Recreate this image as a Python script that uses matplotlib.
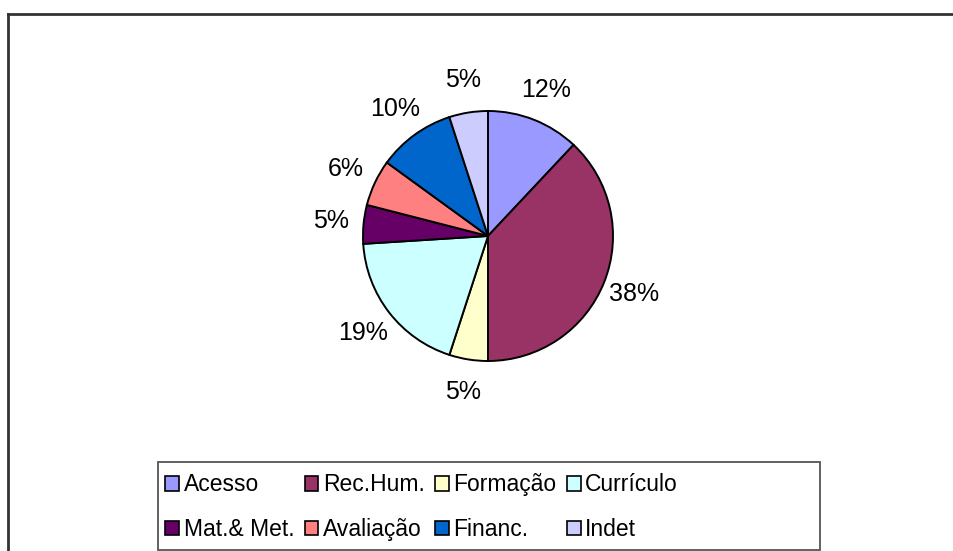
import matplotlib
matplotlib.use("Agg")
import matplotlib.pyplot as plt
from matplotlib.patches import Patch, Rectangle
from matplotlib.lines import Line2D

# categories and shares (%), clockwise from 12 o'clock
categories = ["Acesso", "Rec.Hum.", "Formação", "Currículo",
              "Mat.& Met.", "Avaliação", "Financ.", "Indet"]
shares = [12, 38, 5, 19, 5, 6, 10, 5]
colors = ["#9999FF", "#993366", "#FFFFCC", "#CCFFFF",
          "#660066", "#FF8080", "#0066CC", "#CCCCFF"]

W, H = 954, 551
fig = plt.figure(figsize=(W / 100, H / 100), dpi=100)

# pie: centre (488, 236) px, radius 125 px
cx, cy, r = 488, 236, 125
ax = fig.add_axes([(cx - r) / W, (H - cy - r) / H, 2 * r / W, 2 * r / H])
wedges, _, pct = ax.pie(shares, colors=colors, startangle=90, counterclock=False,
                        autopct="%.0f%%", pctdistance=1.26,
                        wedgeprops=dict(edgecolor="black", linewidth=1.4),
                        textprops=dict(fontsize=18, family="Liberation Sans"))
ax.set_xlim(-1, 1)
ax.set_ylim(-1, 1)
ax.set_aspect("equal")
ax.axis("off")

# outer chart frame (only top and left edges visible)
fig.add_artist(Line2D([8 / W, 1], [1 - 14 / H, 1 - 14 / H], color="#333333", lw=2))
fig.add_artist(Line2D([8 / W, 8 / W], [0, 1 - 14 / H], color="#333333", lw=2))

# legend box
fig.add_artist(Rectangle((158 / W, 1 / H), (820 - 158) / W, (550 - 462) / H,
                         facecolor="white", edgecolor="#555555", lw=1.3,
                         transform=fig.transFigure))

# legend fills column-first, so reorder to read row by row (4 per row)
ncol = 4
order = [i + ncol * j for i in range(ncol) for j in range(2)]
handles = [Patch(facecolor=colors[i], edgecolor="black", lw=1.2) for i in order]
labels = [categories[i] for i in order]
fig.legend(handles, labels, ncol=ncol, loc="upper left",
           bbox_to_anchor=(147 / W, 1 - 455 / H), frameon=False,
           prop=dict(family="Liberation Sans", size=16.5),
           handlelength=0.6, handleheight=0.6, handletextpad=0.2,
           columnspacing=0.45, labelspacing=0.95, borderpad=0.3)

fig.savefig("out.png", dpi=100)
